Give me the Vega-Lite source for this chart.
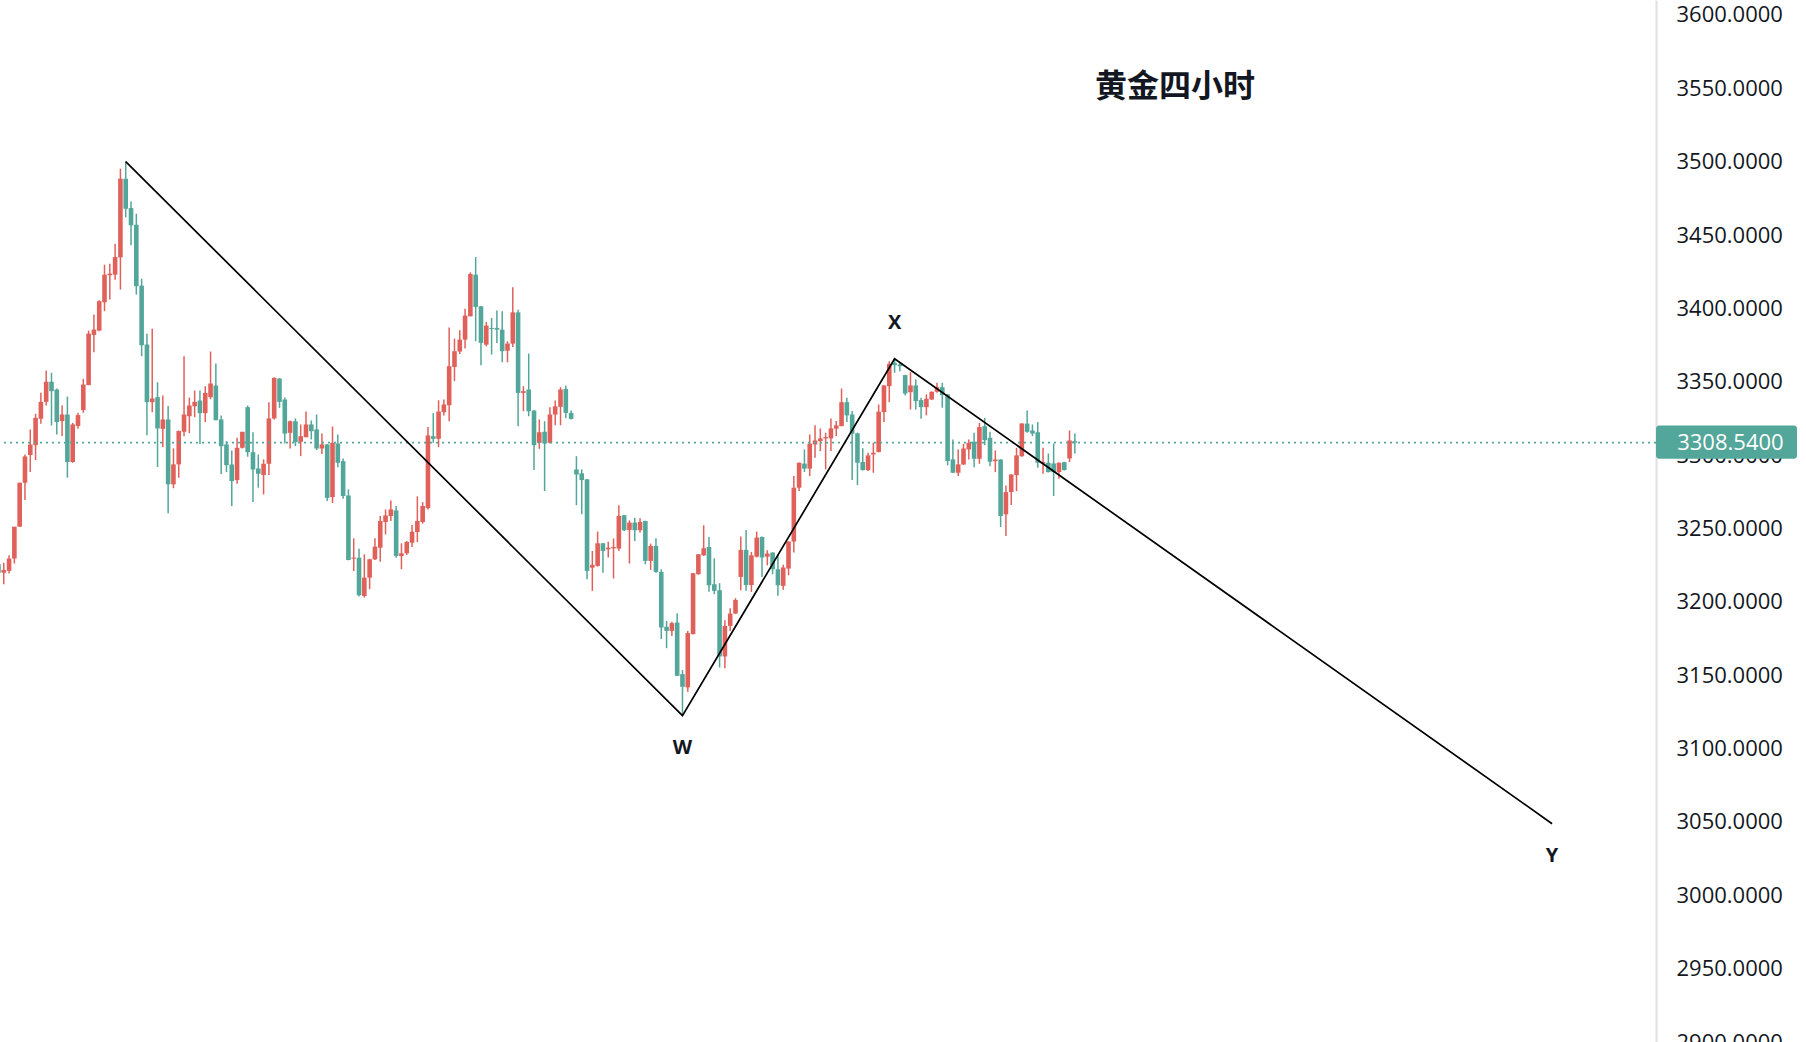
{
"$schema": "https://vega.github.io/schema/vega-lite/v6.json",
"width": 1656, "height": 1042,
"autosize": {"type": "none"},
"padding": {"left": 0, "top": 0, "right": 150, "bottom": 0},
"background": "white",
"config": {"view": {"stroke": null}},
"datasets": {
"candles": [
{"i":1,"o":3225.6,"h":3228,"l":3218,"c":3219.9},
{"i":2,"o":3219.9,"h":3226.7,"l":3212.0,"c":3221.7},
{"i":3,"o":3221.1,"h":3231.7,"l":3219.3,"c":3229.5},
{"i":4,"o":3229.5,"h":3251.2,"l":3226.1,"c":3251.2},
{"i":5,"o":3251.2,"h":3281.2,"l":3251.2,"c":3281.2},
{"i":6,"o":3281.2,"h":3300.5,"l":3269.4,"c":3299.1},
{"i":7,"o":3300.0,"h":3317.5,"l":3288.5,"c":3307.3},
{"i":8,"o":3306.8,"h":3328.2,"l":3296.6,"c":3325.4},
{"i":9,"o":3324.8,"h":3342.5,"l":3321.4,"c":3336.3},
{"i":10,"o":3336.3,"h":3357.7,"l":3333.8,"c":3350.0},
{"i":11,"o":3350.0,"h":3356.1,"l":3320.2,"c":3343.6},
{"i":12,"o":3344.7,"h":3345.4,"l":3314.1,"c":3322.5},
{"i":13,"o":3323.2,"h":3333.8,"l":3313.0,"c":3327.7},
{"i":14,"o":3327.7,"h":3339.9,"l":3284.6,"c":3295.3},
{"i":15,"o":3295.3,"h":3322.0,"l":3294.8,"c":3320.9},
{"i":16,"o":3319.8,"h":3328.9,"l":3318.0,"c":3327.3},
{"i":17,"o":3330.7,"h":3352.0,"l":3328.9,"c":3348.1},
{"i":18,"o":3347.7,"h":3384.9,"l":3347.7,"c":3382.8},
{"i":19,"o":3381.9,"h":3395.8,"l":3370.1,"c":3385.6},
{"i":20,"o":3384.9,"h":3405.5,"l":3384.4,"c":3404.9},
{"i":21,"o":3404.2,"h":3429.8,"l":3398.1,"c":3423.0},
{"i":22,"o":3422.6,"h":3430.5,"l":3406.0,"c":3423.7},
{"i":23,"o":3423.0,"h":3444.1,"l":3419.6,"c":3435.0},
{"i":24,"o":3434.8,"h":3495.2,"l":3412.8,"c":3488.4},
{"i":25,"o":3488.4,"h":3500.2,"l":3462.0,"c":3467.9},
{"i":26,"o":3468.4,"h":3472.9,"l":3443.0,"c":3456.6},
{"i":27,"o":3457.0,"h":3464.5,"l":3409.4,"c":3415.1},
{"i":28,"o":3415.5,"h":3420.3,"l":3367.4,"c":3374.9},
{"i":29,"o":3375.4,"h":3382.8,"l":3313.6,"c":3336.1},
{"i":30,"o":3336.1,"h":3386.2,"l":3329.3,"c":3338.6},
{"i":31,"o":3339.5,"h":3349.7,"l":3291.9,"c":3318.2},
{"i":32,"o":3317.9,"h":3340.6,"l":3305.5,"c":3324.3},
{"i":33,"o":3324.3,"h":3333.4,"l":3260.3,"c":3280.1},
{"i":34,"o":3280.1,"h":3304.6,"l":3277.4,"c":3293.7},
{"i":35,"o":3293.7,"h":3316.8,"l":3284.6,"c":3316.4},
{"i":36,"o":3315.9,"h":3367.4,"l":3312.9,"c":3327.7},
{"i":37,"o":3326.5,"h":3339.2,"l":3315.0,"c":3333.8},
{"i":38,"o":3333.3,"h":3344.0,"l":3325.9,"c":3336.3},
{"i":39,"o":3337.2,"h":3344.0,"l":3307.5,"c":3328.6},
{"i":40,"o":3328.6,"h":3347.0,"l":3322.5,"c":3342.4},
{"i":41,"o":3339.5,"h":3370.6,"l":3338.1,"c":3348.8},
{"i":42,"o":3347.4,"h":3362.4,"l":3323.8,"c":3323.8},
{"i":43,"o":3324.3,"h":3327.0,"l":3287.1,"c":3306.1},
{"i":44,"o":3307.3,"h":3309.5,"l":3288.4,"c":3293.2},
{"i":45,"o":3293.6,"h":3303.2,"l":3265.3,"c":3282.3},
{"i":46,"o":3283.0,"h":3311.8,"l":3280.5,"c":3305.0},
{"i":47,"o":3305.0,"h":3315.9,"l":3304.5,"c":3315.9},
{"i":48,"o":3332.7,"h":3333.8,"l":3298.9,"c":3302.0},
{"i":49,"o":3302.0,"h":3315.6,"l":3268.0,"c":3290.2},
{"i":50,"o":3290.9,"h":3300.4,"l":3277.8,"c":3287.3},
{"i":51,"o":3286.4,"h":3297.1,"l":3273.2,"c":3294.1},
{"i":52,"o":3294.1,"h":3336.1,"l":3286.4,"c":3325.0},
{"i":53,"o":3325.0,"h":3353.1,"l":3324.3,"c":3352.6},
{"i":54,"o":3352.2,"h":3352.4,"l":3332.2,"c":3336.3},
{"i":55,"o":3337.9,"h":3339.2,"l":3307.9,"c":3314.7},
{"i":56,"o":3315.2,"h":3323.6,"l":3304.5,"c":3323.1},
{"i":57,"o":3323.1,"h":3325.0,"l":3306.1,"c":3308.8},
{"i":58,"o":3309.1,"h":3320.9,"l":3299.3,"c":3312.9},
{"i":59,"o":3312.2,"h":3329.7,"l":3312.2,"c":3320.9},
{"i":60,"o":3320.9,"h":3323.6,"l":3310.7,"c":3316.3},
{"i":61,"o":3317.5,"h":3327.7,"l":3303.4,"c":3304.5},
{"i":62,"o":3304.5,"h":3314.7,"l":3300.7,"c":3307.3},
{"i":63,"o":3307.3,"h":3307.5,"l":3268.7,"c":3270.9},
{"i":64,"o":3271.4,"h":3319.5,"l":3267.3,"c":3308.4},
{"i":65,"o":3307.9,"h":3314.1,"l":3291.8,"c":3294.8},
{"i":66,"o":3295.9,"h":3297.7,"l":3270.3,"c":3272.1},
{"i":67,"o":3272.5,"h":3276.6,"l":3228.3,"c":3228.5},
{"i":68,"o":3229.4,"h":3243.3,"l":3221.0,"c":3230.1},
{"i":69,"o":3230.1,"h":3236.2,"l":3203.6,"c":3204.5},
{"i":70,"o":3204.0,"h":3232.4,"l":3202.9,"c":3216.5},
{"i":71,"o":3216.5,"h":3229.4,"l":3208.6,"c":3229.0},
{"i":72,"o":3229.0,"h":3243.3,"l":3228.5,"c":3237.6},
{"i":73,"o":3236.9,"h":3258.5,"l":3227.4,"c":3255.1},
{"i":74,"o":3254.4,"h":3263.0,"l":3246.0,"c":3258.9},
{"i":75,"o":3258.5,"h":3269.1,"l":3255.1,"c":3263.0},
{"i":76,"o":3262.3,"h":3265.3,"l":3230.1,"c":3231.3},
{"i":77,"o":3231.2,"h":3239.9,"l":3222.2,"c":3233.1},
{"i":78,"o":3233.1,"h":3241.5,"l":3231.9,"c":3240.8},
{"i":79,"o":3240.3,"h":3252.3,"l":3237.4,"c":3247.8},
{"i":80,"o":3247.6,"h":3271.9,"l":3240.8,"c":3255.1},
{"i":81,"o":3254.4,"h":3268.0,"l":3253.3,"c":3265.3},
{"i":82,"o":3263.9,"h":3319.1,"l":3263.0,"c":3313.4},
{"i":83,"o":3312.9,"h":3328.6,"l":3308.4,"c":3311.1},
{"i":84,"o":3311.1,"h":3337.4,"l":3305.4,"c":3329.7},
{"i":85,"o":3329.3,"h":3337.9,"l":3327.0,"c":3334.5},
{"i":86,"o":3334.0,"h":3386.9,"l":3323.1,"c":3360.6},
{"i":87,"o":3360.1,"h":3379.4,"l":3350.4,"c":3370.8},
{"i":88,"o":3370.6,"h":3385.1,"l":3369.0,"c":3378.7},
{"i":89,"o":3378.7,"h":3399.8,"l":3372.6,"c":3395.1},
{"i":90,"o":3394.6,"h":3424.6,"l":3394.6,"c":3423.4},
{"i":91,"o":3423.0,"h":3435.0,"l":3377.6,"c":3401.0},
{"i":92,"o":3401.4,"h":3401.6,"l":3361.3,"c":3376.5},
{"i":93,"o":3375.3,"h":3390.8,"l":3374.2,"c":3388.3},
{"i":94,"o":3386.7,"h":3393.5,"l":3368.5,"c":3386.0},
{"i":95,"o":3386.7,"h":3398.5,"l":3376.5,"c":3385.5},
{"i":96,"o":3385.5,"h":3398.0,"l":3363.3,"c":3370.8},
{"i":97,"o":3371.2,"h":3377.6,"l":3363.3,"c":3376.0},
{"i":98,"o":3376.0,"h":3414.4,"l":3373.7,"c":3397.3},
{"i":99,"o":3397.3,"h":3399.1,"l":3319.7,"c":3342.4},
{"i":100,"o":3342.4,"h":3347.0,"l":3329.9,"c":3343.6},
{"i":101,"o":3344.7,"h":3369.2,"l":3326.5,"c":3329.9},
{"i":102,"o":3330.4,"h":3330.6,"l":3289.8,"c":3306.8},
{"i":103,"o":3308.4,"h":3324.3,"l":3304.3,"c":3315.6},
{"i":104,"o":3315.9,"h":3323.1,"l":3275.5,"c":3307.9},
{"i":105,"o":3308.4,"h":3332.7,"l":3308.0,"c":3327.7},
{"i":106,"o":3327.7,"h":3337.2,"l":3320.4,"c":3333.3},
{"i":107,"o":3332.9,"h":3346.3,"l":3320.4,"c":3344.7},
{"i":108,"o":3345.1,"h":3347.4,"l":3325.2,"c":3328.8},
{"i":109,"o":3328.8,"h":3330.4,"l":3324.3,"c":3324.7},
{"i":110,"o":3290.2,"h":3299.3,"l":3265.9,"c":3286.8},
{"i":111,"o":3287.6,"h":3290.3,"l":3259.7,"c":3283.0},
{"i":112,"o":3283.5,"h":3283.7,"l":3215.4,"c":3221.1},
{"i":113,"o":3223.3,"h":3234.7,"l":3207.5,"c":3225.2},
{"i":114,"o":3224.5,"h":3247.9,"l":3224.0,"c":3239.9},
{"i":115,"o":3239.9,"h":3240.1,"l":3219.9,"c":3234.7},
{"i":116,"o":3235.8,"h":3241.0,"l":3230.2,"c":3236.9},
{"i":117,"o":3236.5,"h":3243.1,"l":3215.9,"c":3237.4},
{"i":118,"o":3236.3,"h":3265.8,"l":3234.7,"c":3258.5},
{"i":119,"o":3259.0,"h":3259.2,"l":3248.3,"c":3248.8},
{"i":120,"o":3249.0,"h":3255.6,"l":3226.1,"c":3254.0},
{"i":121,"o":3254.0,"h":3257.4,"l":3241.5,"c":3248.8},
{"i":122,"o":3248.8,"h":3256.9,"l":3247.2,"c":3254.4},
{"i":123,"o":3255.1,"h":3255.3,"l":3225.6,"c":3227.9},
{"i":124,"o":3227.9,"h":3239.7,"l":3221.8,"c":3238.1},
{"i":125,"o":3238.1,"h":3243.3,"l":3219.9,"c":3220.4},
{"i":126,"o":3220.4,"h":3222.2,"l":3174.6,"c":3182.5},
{"i":127,"o":3183.0,"h":3187.0,"l":3168.4,"c":3180.2},
{"i":128,"o":3180.2,"h":3186.4,"l":3176.8,"c":3185.5},
{"i":129,"o":3185.9,"h":3192.3,"l":3149.4,"c":3149.6},
{"i":130,"o":3150.7,"h":3153.5,"l":3122.4,"c":3142.1},
{"i":131,"o":3141.7,"h":3180.2,"l":3138.7,"c":3178.7},
{"i":132,"o":3178.0,"h":3219.7,"l":3177.8,"c":3219.5},
{"i":133,"o":3218.8,"h":3232.6,"l":3218.6,"c":3232.4},
{"i":134,"o":3231.7,"h":3252.2,"l":3231.3,"c":3236.5},
{"i":135,"o":3237.4,"h":3244.2,"l":3206.8,"c":3211.3},
{"i":136,"o":3212.0,"h":3229.7,"l":3205.2,"c":3207.5},
{"i":137,"o":3207.9,"h":3212.7,"l":3155.3,"c":3162.8},
{"i":138,"o":3162.8,"h":3187.5,"l":3154.8,"c":3183.6},
{"i":139,"o":3183.6,"h":3195.7,"l":3180.2,"c":3192.0},
{"i":140,"o":3192.0,"h":3202.5,"l":3191.8,"c":3201.3},
{"i":141,"o":3217.0,"h":3244.5,"l":3207.9,"c":3235.4},
{"i":142,"o":3235.4,"h":3249.0,"l":3207.5,"c":3211.5},
{"i":143,"o":3211.5,"h":3234.0,"l":3206.8,"c":3231.7},
{"i":144,"o":3230.8,"h":3247.9,"l":3230.2,"c":3243.8},
{"i":145,"o":3244.2,"h":3244.5,"l":3217.0,"c":3230.2},
{"i":146,"o":3230.8,"h":3235.2,"l":3224.9,"c":3232.9},
{"i":147,"o":3233.6,"h":3233.8,"l":3218.8,"c":3222.2},
{"i":148,"o":3222.2,"h":3232.4,"l":3204.1,"c":3211.3},
{"i":149,"o":3210.9,"h":3225.2,"l":3208.2,"c":3223.4},
{"i":150,"o":3222.7,"h":3241.3,"l":3218.1,"c":3241.1},
{"i":151,"o":3241.1,"h":3285.8,"l":3233.6,"c":3277.8},
{"i":152,"o":3277.8,"h":3295.0,"l":3275.6,"c":3294.8},
{"i":153,"o":3294.2,"h":3303.9,"l":3288.5,"c":3290.8},
{"i":154,"o":3290.8,"h":3314.1,"l":3285.8,"c":3307.8},
{"i":155,"o":3307.3,"h":3320.3,"l":3298.2,"c":3310.0},
{"i":156,"o":3309.6,"h":3318.2,"l":3302.8,"c":3311.4},
{"i":157,"o":3311.4,"h":3315.3,"l":3290.3,"c":3312.3},
{"i":158,"o":3311.4,"h":3325.0,"l":3302.8,"c":3318.2},
{"i":159,"o":3318.0,"h":3323.2,"l":3313.0,"c":3320.3},
{"i":160,"o":3319.8,"h":3345.4,"l":3319.6,"c":3336.1},
{"i":161,"o":3336.1,"h":3339.1,"l":3322.5,"c":3327.1},
{"i":162,"o":3327.7,"h":3330.0,"l":3283.0,"c":3314.6},
{"i":163,"o":3314.8,"h":3315.3,"l":3279.6,"c":3294.8},
{"i":164,"o":3295.3,"h":3304.6,"l":3289.6,"c":3289.8},
{"i":165,"o":3289.8,"h":3301.6,"l":3289.2,"c":3299.8},
{"i":166,"o":3300.5,"h":3308.5,"l":3288.0,"c":3301.6},
{"i":167,"o":3302.1,"h":3334.5,"l":3301.9,"c":3329.6},
{"i":168,"o":3329.3,"h":3347.7,"l":3322.5,"c":3347.5},
{"i":169,"o":3347.0,"h":3364.0,"l":3336.1,"c":3362.2},
{"i":170,"o":3362.9,"h":3366.3,"l":3356.1,"c":3361.3},
{"i":171,"o":3361.8,"h":3362.9,"l":3357.2,"c":3360.6},
{"i":172,"o":3354.5,"h":3354.7,"l":3340.7,"c":3342.0},
{"i":173,"o":3342.9,"h":3356.6,"l":3331.1,"c":3347.5},
{"i":174,"o":3347.5,"h":3351.6,"l":3331.1,"c":3336.8},
{"i":175,"o":3337.5,"h":3339.1,"l":3324.8,"c":3332.7},
{"i":176,"o":3332.7,"h":3341.4,"l":3327.1,"c":3338.4},
{"i":177,"o":3337.9,"h":3343.4,"l":3337.7,"c":3343.2},
{"i":178,"o":3343.2,"h":3349.3,"l":3342.5,"c":3346.3},
{"i":179,"o":3346.3,"h":3349.3,"l":3332.3,"c":3340.9},
{"i":180,"o":3341.4,"h":3341.6,"l":3293.0,"c":3296.0},
{"i":181,"o":3297.1,"h":3310.7,"l":3287.8,"c":3288.0},
{"i":182,"o":3288.0,"h":3303.9,"l":3285.8,"c":3293.7},
{"i":183,"o":3293.6,"h":3307.7,"l":3293.4,"c":3304.5},
{"i":184,"o":3303.9,"h":3310.7,"l":3297.0,"c":3308.4},
{"i":185,"o":3309.1,"h":3315.2,"l":3291.8,"c":3297.5},
{"i":186,"o":3297.5,"h":3322.0,"l":3294.1,"c":3319.1},
{"i":187,"o":3319.7,"h":3325.4,"l":3306.8,"c":3310.2},
{"i":188,"o":3311.8,"h":3315.9,"l":3292.5,"c":3295.5},
{"i":189,"o":3295.9,"h":3303.2,"l":3288.4,"c":3297.0},
{"i":190,"o":3297.0,"h":3297.2,"l":3251.0,"c":3258.5},
{"i":191,"o":3259.6,"h":3279.3,"l":3244.9,"c":3274.8},
{"i":192,"o":3274.8,"h":3287.0,"l":3266.0,"c":3286.8},
{"i":193,"o":3286.4,"h":3305.0,"l":3275.5,"c":3299.8},
{"i":194,"o":3299.3,"h":3321.7,"l":3298.9,"c":3321.5},
{"i":195,"o":3321.5,"h":3330.4,"l":3315.2,"c":3315.9},
{"i":196,"o":3316.8,"h":3320.9,"l":3312.9,"c":3314.7},
{"i":197,"o":3315.6,"h":3322.5,"l":3291.4,"c":3294.8},
{"i":198,"o":3294.1,"h":3305.0,"l":3287.3,"c":3295.2},
{"i":199,"o":3294.8,"h":3301.1,"l":3288.2,"c":3288.4},
{"i":200,"o":3294.3,"h":3307.9,"l":3272.1,"c":3288.4},
{"i":201,"o":3288.4,"h":3295.0,"l":3283.9,"c":3294.8},
{"i":202,"o":3295.2,"h":3295.4,"l":3289.6,"c":3289.8},
{"i":203,"o":3297.7,"h":3316.8,"l":3295.2,"c":3310.0},
{"i":204,"o":3309.5,"h":3314.7,"l":3301.1,"c":3308.54}
],
"wave": [
{"i":25,"p":3500.0,"lab":""},
{"i":130,"p":3122.4,"lab":"W"},
{"i":170,"p":3365.7,"lab":"X"},
{"i":294,"p":3048.8,"lab":"Y"}
],
"last": [{"price":3308.54,"label":"3308.5400"}]
},
"layer": [
{
"data": {"name": "candles"},
"mark": {"type": "rule", "strokeWidth": 1.5},
"encoding": {
"x": {"field": "i", "type": "quantitative", "scale": {"domain": [1.29, 313.6], "nice": false, "zero": false, "padding": 0}, "axis": null},
"y": {"field": "l", "type": "quantitative", "title": null,
"scale": {"domain": [2900, 3610.2], "nice": false, "zero": false, "padding": 0},
"axis": {"orient": "right", "values": [2900,2950,3000,3050,3100,3150,3200,3250,3300,3350,3400,3450,3500,3550,3600],
"format": ".4f", "grid": false, "ticks": false, "labelPadding": 20, "labelFont": "Open Sans", "labelFontSize": 22,
"labelColor": "#131722", "domainColor": "#e0e0e0", "domainWidth": 2, "labelOverlap": false, "labelBound": false, "zindex": 0, "title": null}},
"y2": {"field": "h"},
"color": {"condition": {"test": "datum.c >= datum.o", "value": "#E0605A"}, "value": "#53A69A"}
}
},
{
"data": {"name": "candles"},
"mark": {"type": "bar", "width": 4.6},
"encoding": {
"x": {"field": "i", "type": "quantitative"},
"y": {"field": "o", "type": "quantitative", "title": null},
"y2": {"field": "c"},
"color": {"condition": {"test": "datum.c >= datum.o", "value": "#E0605A"}, "value": "#53A69A"}
}
},
{
"data": {"name": "last"},
"mark": {"type": "rule", "strokeDash": [2, 4], "strokeWidth": 1.7, "color": "#53A69A"},
"encoding": {"y": {"field": "price", "type": "quantitative", "title": null}}
},
{
"data": {"name": "wave"},
"mark": {"type": "line", "color": "#000000", "strokeWidth": 1.7},
"encoding": {
"x": {"field": "i", "type": "quantitative"},
"y": {"field": "p", "type": "quantitative", "title": null}
}
},
{
"data": {"name": "wave"},
"transform": [{"filter": "datum.lab == 'W' || datum.lab == 'Y'"}],
"mark": {"type": "text", "dy": 32, "font": "Open Sans", "fontSize": 20, "fontWeight": "bold", "color": "#131722"},
"encoding": {
"x": {"field": "i", "type": "quantitative"},
"y": {"field": "p", "type": "quantitative", "title": null},
"text": {"field": "lab"}
}
},
{
"data": {"name": "wave"},
"transform": [{"filter": "datum.lab == 'X'"}],
"mark": {"type": "text", "dy": -36, "font": "Open Sans", "fontSize": 20, "fontWeight": "bold", "color": "#131722"},
"encoding": {
"x": {"field": "i", "type": "quantitative"},
"y": {"field": "p", "type": "quantitative", "title": null},
"text": {"field": "lab"}
}
},
{
"data": {"name": "last"},
"mark": {"type": "rect", "color": "#53A69A", "cornerRadius": 3},
"encoding": {
"x": {"datum": 313.6},
"x2": {"datum": 340.2},
"y": {"datum": 3320.2},
"y2": {"datum": 3297.5}
}
},
{
"data": {"name": "last"},
"mark": {"type": "text", "align": "left", "baseline": "middle", "font": "Open Sans", "fontSize": 22, "color": "#ffffff"},
"encoding": {
"x": {"datum": 317.6},
"y": {"field": "price", "type": "quantitative", "title": null},
"text": {"field": "label"}
}
},
{
"data": {"values": [{"t": "黄金四小时"}]},
"mark": {"type": "text", "font": "Noto Sans CJK SC", "fontSize": 32, "fontWeight": "bold", "color": "#131722", "baseline": "middle"},
"encoding": {
"x": {"datum": 222.9},
"y": {"datum": 3551.0},
"text": {"field": "t"}
}
}
]
}
